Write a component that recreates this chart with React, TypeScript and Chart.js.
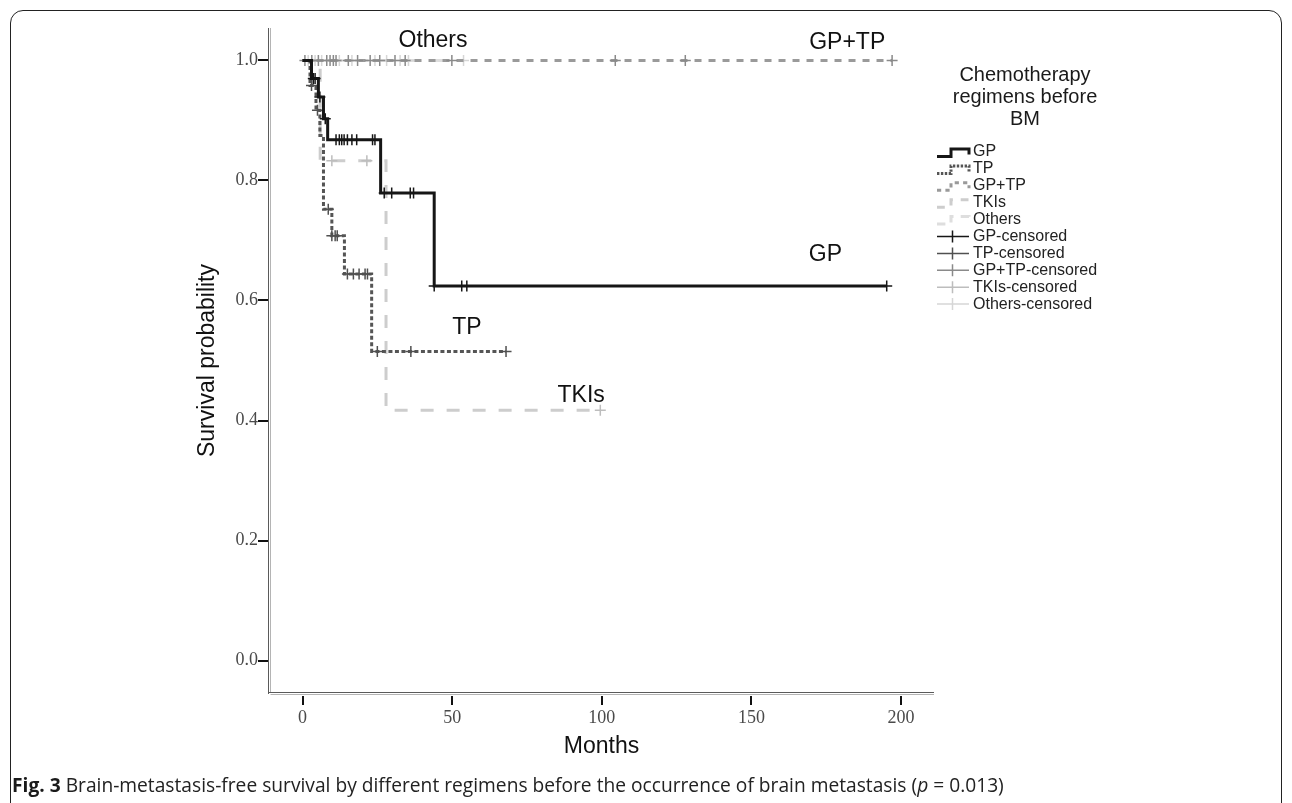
import React, { useEffect, useRef } from 'react';
import { Chart, registerables } from 'chart.js';

Chart.register(...registerables);

// ---------- data ----------
const SERIES = ['GP', 'TP', 'GP+TP', 'TKIs', 'Others'];

// Kaplan-Meier step points: time of event (months) and survival after it
const GP_TIMES = [0, 3.0, 5.3, 7.0, 8.4, 26.1, 44.0, 195.2];
const GP_SURV = [1, 0.970, 0.939, 0.903, 0.868, 0.779, 0.624, 0.624];
const GP_CENSORED = [3.6, 4.2, 5.8, 7.6, 11.2, 12.3, 13.1, 13.9, 15.0, 16.5, 18.1, 23.4, 24.2, 27.3, 29.8, 36.0, 37.1, 44.0, 53.2, 54.9, 195.2];

const TP_TIMES = [0, 2.5, 4.5, 5.8, 7.0, 9.8, 14.0, 23.1, 68.0];
const TP_SURV = [1, 0.958, 0.917, 0.875, 0.752, 0.708, 0.644, 0.515, 0.515];
const TP_CENSORED = [3.0, 5.0, 8.6, 9.8, 10.9, 11.6, 15.0, 17.0, 18.9, 20.9, 21.7, 25.0, 36.2, 68.0];

const GPTP_TIMES = [0, 197.0];
const GPTP_SURV = [1, 1];
const GPTP_CENSORED = [0.8, 3.1, 5.3, 8.1, 9.2, 10.3, 11.2, 15.3, 18.4, 22.6, 25.8, 30.9, 34.3, 49.9, 104.5, 127.9, 197.0];

const TKI_TIMES = [0, 5.9, 27.9, 99.5];
const TKI_SURV = [1, 0.833, 0.417, 0.417];
const TKI_CENSORED = [9.8, 21.5, 99.5];

const OTH_TIMES = [0, 53.8];
const OTH_SURV = [1, 1];
const OTH_CENSORED = [1.9, 4.2, 6.4, 12.3, 16.5, 24.2, 28.1, 32.6, 35.4, 53.8];

const X_TICKS = [0, 50, 100, 150, 200];
const Y_TICKS = [0, 0.2, 0.4, 0.6, 0.8, 1.0];

const LEGEND_TITLE = ['Chemotherapy', 'regimens before', 'BM'];
const CURVE_LABELS = ['Others', 'GP+TP', 'GP', 'TP', 'TKIs'];

// ---------- styles / layout ----------
const LABEL_ANCHORS: Record<string, [number, number]> = {
  Others: [43.6, 1.033],
  'GP+TP': [182, 1.03],
  GP: [174.7, 0.676],
  TP: [54.9, 0.554],
  TKIs: [93.1, 0.442],
};

const STYLE: Record<string, { line: string; mark: string; dash: number[] }> = {
  GP: { line: '#161616', mark: '#161616', dash: [] },
  TP: { line: '#555555', mark: '#505050', dash: [4, 2.5] },
  'GP+TP': { line: '#9a9a9a', mark: '#8a8a8a', dash: [7, 7] },
  TKIs: { line: '#cdcdcd', mark: '#bdbdbd', dash: [13, 13] },
  Others: { line: '#dedede', mark: '#d6d6d6', dash: [14, 12] },
};

const CURVES: Record<string, { t: number[]; s: number[]; c: number[] }> = {
  GP: { t: GP_TIMES, s: GP_SURV, c: GP_CENSORED },
  TP: { t: TP_TIMES, s: TP_SURV, c: TP_CENSORED },
  'GP+TP': { t: GPTP_TIMES, s: GPTP_SURV, c: GPTP_CENSORED },
  TKIs: { t: TKI_TIMES, s: TKI_SURV, c: TKI_CENSORED },
  Others: { t: OTH_TIMES, s: OTH_SURV, c: OTH_CENSORED },
};

function survAt(t: number[], s: number[], time: number) {
  let v = s[0];
  for (let i = 0; i < t.length; i++) if (t[i] <= time) v = s[i];
  return v;
}

const SANS = '"Liberation Sans", Arial, sans-serif';
const SERIF = '"Liberation Serif", "Times New Roman", serif';

const decorPlugin = {
  id: 'decor',
  afterDraw(chart: any) {
    const { ctx, chartArea, scales } = chart;
    const xs = scales.x, ys = scales.y;
    const L = chartArea.left, R = chartArea.right, T = chartArea.top, B = chartArea.bottom;
    ctx.save();
    // double axis lines
    ctx.setLineDash([]);
    ctx.lineWidth = 1;
    ctx.strokeStyle = '#5a5a5a';
    ctx.beginPath();
    ctx.moveTo(L - 0.5, T); ctx.lineTo(L - 0.5, B + 1);
    ctx.moveTo(L - 1, B - 0.5); ctx.lineTo(R, B - 0.5);
    ctx.stroke();
    ctx.strokeStyle = '#b4b4b4';
    ctx.beginPath();
    ctx.moveTo(L + 1.5, T); ctx.lineTo(L + 1.5, B - 1);
    ctx.moveTo(L + 1.5, B + 1.5); ctx.lineTo(R, B + 1.5);
    ctx.stroke();
    // tick marks
    ctx.strokeStyle = '#111';
    ctx.lineWidth = 2;
    ctx.beginPath();
    Y_TICKS.forEach(v => {
      const y = Math.round(ys.getPixelForValue(v));
      ctx.moveTo(L - 11, y); ctx.lineTo(L - 1, y);
    });
    X_TICKS.forEach(v => {
      const x = Math.round(xs.getPixelForValue(v));
      ctx.moveTo(x, B + 3); ctx.lineTo(x, B + 12);
    });
    ctx.stroke();

    // curve labels
    ctx.fillStyle = '#111';
    ctx.font = `23px ${SANS}`;
    ctx.textAlign = 'center';
    ctx.textBaseline = 'middle';
    CURVE_LABELS.forEach(name => {
      const [mx, sy] = LABEL_ANCHORS[name];
      ctx.fillText(name, xs.getPixelForValue(mx), ys.getPixelForValue(sy));
    });

    // legend
    const titleX = 1025;
    ctx.font = `20px ${SANS}`;
    ctx.fillStyle = '#1a1a1a';
    LEGEND_TITLE.forEach((line, i) => ctx.fillText(line, titleX, 75 + i * 22));
    const x0 = 937, x1 = 969, tx = 973, y0 = 152, dy = 16.9;
    ctx.textAlign = 'left';
    ctx.font = `16px ${SANS}`;
    const items = SERIES.concat(SERIES.map(s => s + '-censored'));
    items.forEach((label, i) => {
      const cy = y0 + i * dy;
      const key = i < SERIES.length ? SERIES[i] : SERIES[i - SERIES.length];
      const st = STYLE[key];
      if (i < SERIES.length) {
        ctx.strokeStyle = st.line;
        ctx.lineWidth = 3;
        ctx.setLineDash(st.dash.map(d => d * 0.6));
        ctx.beginPath();
        ctx.moveTo(x0, cy + 4.5); ctx.lineTo(x0 + 14, cy + 4.5);
        ctx.lineTo(x0 + 14, cy - 3); ctx.lineTo(x1, cy - 3); ctx.lineTo(x1, cy + 2.5);
        ctx.stroke();
      } else {
        ctx.strokeStyle = st.mark;
        ctx.lineWidth = 1.5;
        ctx.setLineDash([]);
        ctx.beginPath();
        ctx.moveTo(x0, cy); ctx.lineTo(x1, cy);
        ctx.moveTo(x0 + 15.5, cy - 6); ctx.lineTo(x0 + 15.5, cy + 6);
        ctx.stroke();
      }
      ctx.setLineDash([]);
      ctx.fillStyle = '#222';
      ctx.fillText(label, tx, cy);
    });
    ctx.restore();
  },
};

export default function App() {
  const ref = useRef<HTMLCanvasElement | null>(null);

  useEffect(() => {
    if (!ref.current) return;
    const datasets: any[] = [];
    let order = 0;
    SERIES.forEach(name => {
      const cv = CURVES[name];
      const st = STYLE[name];
      datasets.push({
        label: name + '-censored',
        data: cv.c.map(t => ({ x: t, y: survAt(cv.t, cv.s, t) })),
        showLine: false,
        pointStyle: 'cross',
        pointRadius: 5.5,
        pointBorderWidth: 1.5,
        pointBorderColor: st.mark,
        pointBackgroundColor: st.mark,
        order: order++,
      });
      datasets.push({
        label: name,
        data: cv.t.map((t, i) => ({ x: t, y: cv.s[i] })),
        stepped: 'before',
        borderColor: st.line,
        borderWidth: 3,
        borderDash: st.dash,
        pointRadius: 0,
        fill: false,
        order: order++,
      });
    });

    const chart = new Chart(ref.current, {
      type: 'line',
      data: { datasets },
      options: {
        animation: false,
        responsive: false,
        devicePixelRatio: 1,
        layout: { padding: { top: 28, right: 358, left: 0, bottom: 0 } },
        plugins: { legend: { display: false }, tooltip: { enabled: false } },
        scales: {
          x: {
            type: 'linear',
            min: -11.2,
            max: 211,
            afterBuildTicks: (s: any) => { s.ticks = X_TICKS.map(v => ({ value: v })); },
            afterFit: (s: any) => { s.height = 110; },
            grid: { display: false, drawTicks: false },
            border: { display: false },
            ticks: { font: { family: SERIF, size: 18 }, color: '#4a4a4a', padding: 14, maxRotation: 0, autoSkip: false },
            title: { display: true, text: 'Months', font: { family: SANS, size: 23 }, color: '#111', padding: { top: 0, bottom: 43 } },
          },
          y: {
            type: 'linear',
            min: -0.054,
            max: 1.054,
            afterBuildTicks: (s: any) => { s.ticks = Y_TICKS.map(v => ({ value: v })); },
            afterFit: (s: any) => { s.width = 269; },
            grid: { display: false, drawTicks: false },
            border: { display: false },
            ticks: { font: { family: SERIF, size: 18 }, color: '#4a4a4a', padding: 11, callback: (v: any) => Number(v).toFixed(1) },
            title: { display: true, text: 'Survival probability', font: { family: SANS, size: 23 }, color: '#111', padding: { top: 194, bottom: 0 } },
          },
        },
      },
      plugins: [decorPlugin],
    } as any);
    return () => chart.destroy();
  }, []);

  return (
    <div style={{ position: 'absolute', left: 0, top: 0, width: 1292, height: 803, overflow: 'hidden', background: '#fff' }}>
      <canvas ref={ref} width={1292} height={803} style={{ position: 'absolute', left: 0, top: 0, width: 1292, height: 803 }} />
      <div style={{ position: 'absolute', left: 10, top: 10, width: 1272, height: 830, boxSizing: 'border-box', border: '1.5px solid #222', borderRadius: 13 }} />
      <div style={{ position: 'absolute', left: 12, top: 771, font: '19.2px "Open Sans", sans-serif', color: '#222', whiteSpace: 'nowrap' }}>
        <b style={{ color: '#1a1a1a' }}>Fig. 3</b> Brain-metastasis-free survival by different regimens before the occurrence of brain metastasis (<i>p</i> = 0.013)
      </div>
    </div>
  );
}
